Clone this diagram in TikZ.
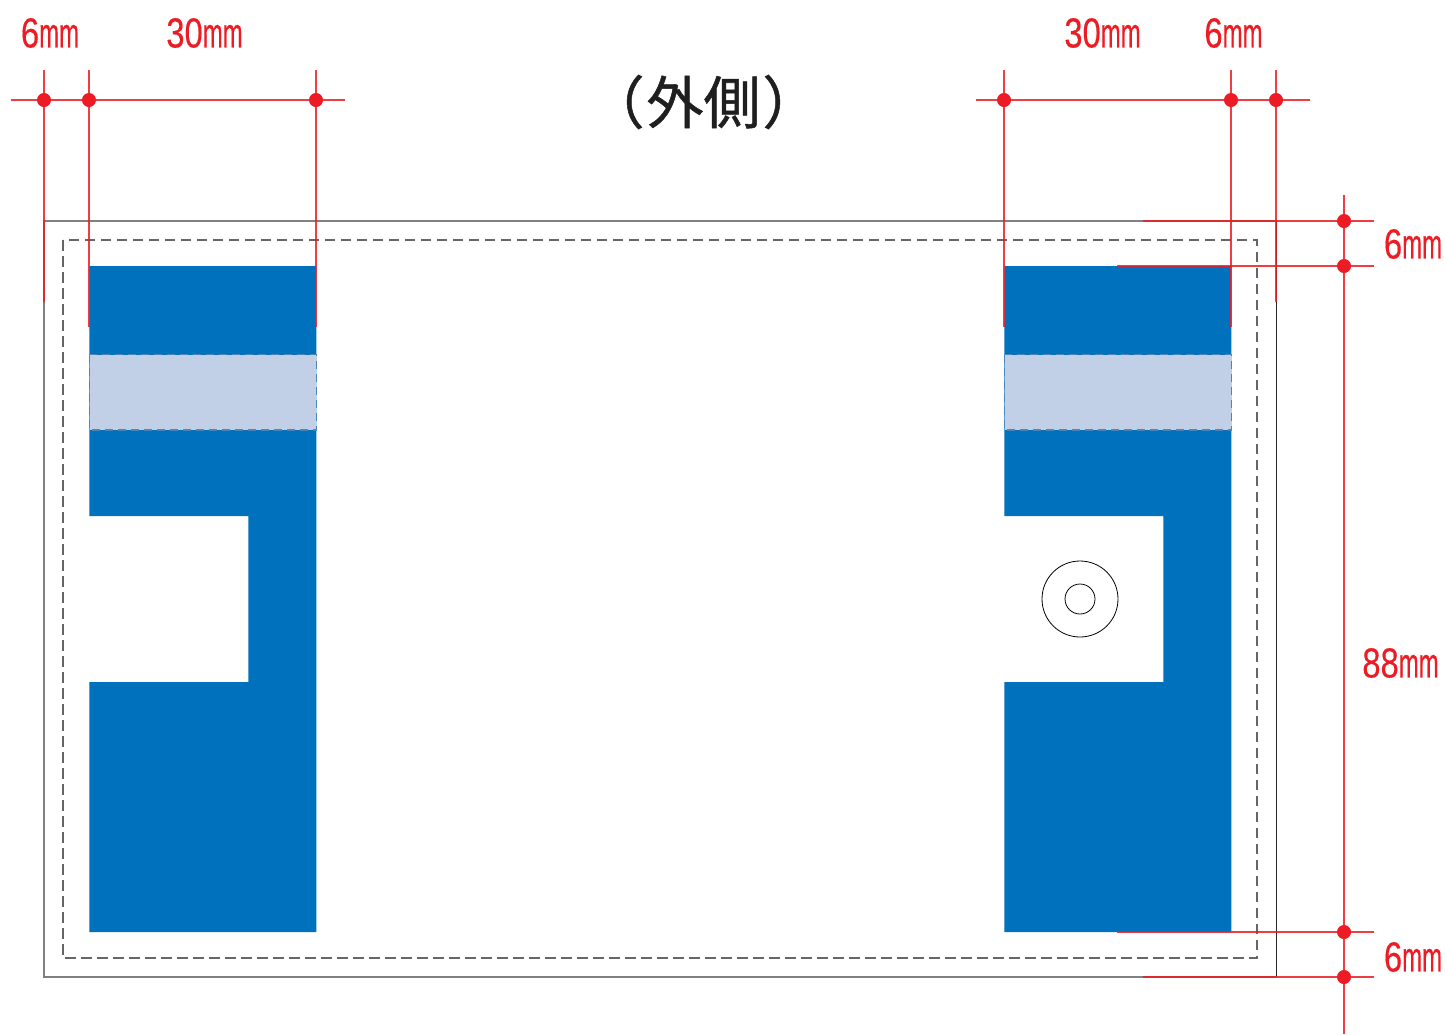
\documentclass[tikz,border=0pt]{standalone}
\usepackage{graphicx}
\usepackage{fontspec}
\setmainfont[FakeBold=0.35]{Liberation Sans}
\newfontfamily\cjkface[FakeBold=0.9]{Noto Sans CJK JP}
\definecolor{dimred}{HTML}{ED1C24}
\definecolor{panelblue}{HTML}{0071BC}
\definecolor{bandblue}{HTML}{C1D0E6}
\definecolor{bandedge}{HTML}{4F85B5}
\newcommand{\dimtext}[1]{\scalebox{.78}[1]{#1}\scalebox{.57}[1]{mm}}
\tikzset{
  x=0.5pt,y=-0.5pt,
  panel/.style={fill=panelblue,draw=none},
  band/.style={fill=bandblue,draw=bandedge,line width=.55pt,dash pattern=on 4pt off 2.5pt},
  edgeline/.style={draw=black!50,line width=.7pt},
  edgedark/.style={draw=black!85,line width=.5pt},
  safeline/.style={draw=black!60,line width=.65pt,dash pattern=on 5.25pt off 2.75pt},
  dimline/.style={draw=dimred,line width=.65pt,opacity=.85},
  dimdot/.style={circle,fill=dimred,inner sep=0pt,minimum size=6.5pt},
  dimlabel/.style={text=dimred,font=\fontsize{21}{21}\selectfont,inner sep=0pt},
  ring/.style={circle,draw=black,line width=.4pt,fill=white,inner sep=0pt}
}
\begin{document}
\begin{tikzpicture}
\useasboundingbox (0,0) rectangle (1446,1034);
\fill[white] (0,0) rectangle (1446,1034);
% trim outline
\draw[edgeline] (1276,221) -- (44,221) -- (44,977) -- (1276,977);
\draw[edgedark] (1276,221) -- (1276,977);
% safe line
\draw[safeline] (63,240) rectangle (1257,958);
% panels
\begin{scope}[xshift=.2pt]
\fill[panel] (89,266) -- (316,266) -- (316,932) -- (89,932) -- (89,682) -- (248,682) -- (248,516) -- (89,516) -- cycle;
\fill[panel] (1004,266) -- (1231,266) -- (1231,932) -- (1004,932) -- (1004,682) -- (1163,682) -- (1163,516) -- (1004,516) -- cycle;
\path[band] (89.5,354.5) rectangle (316.5,430);
\path[band] (1004.5,354.5) rectangle (1231.5,430);
\end{scope}
% eyelet
\node[ring,minimum size=38pt] (eyeouter) at (1080,599) {};
\node[ring,minimum size=15pt] (eyeinner) at (1080,599) {};
% dimension dots
\node[dimdot] (tl1) at (44,100) {};
\node[dimdot] (tl2) at (89,100) {};
\node[dimdot] (tl3) at (316,100) {};
\node[dimdot] (tr1) at (1004,100) {};
\node[dimdot] (tr2) at (1231,100) {};
\node[dimdot] (tr3) at (1276,100) {};
\node[dimdot] (ra) at (1344,221) {};
\node[dimdot] (rb) at (1344,266) {};
\node[dimdot] (rc) at (1344,932) {};
\node[dimdot] (rd) at (1344,977) {};
% free ends
\foreach \n/\x/\b in {tl1/44/302,tl2/89/327,tl3/316/327,tr1/1004/327,tr2/1231/327,tr3/1276/302}{
  \coordinate (\n u) at (\x,70);
  \coordinate (\n d) at (\x,\b);
  \draw[dimline] (\n u) -- (\n) -- (\n d);
}
\coordinate (hl0) at (11,100); \coordinate (hl1) at (345,100);
\coordinate (hr0) at (976,100); \coordinate (hr1) at (1310,100);
\draw[dimline] (hl0) -- (tl1) -- (tl2) -- (tl3) -- (hl1);
\draw[dimline] (hr0) -- (tr1) -- (tr2) -- (tr3) -- (hr1);
\foreach \n/\y/\a in {ra/221/1143,rb/266/1117,rc/932/1117,rd/977/1143}{
  \coordinate (\n l) at (\a,\y);
  \coordinate (\n r) at (1374,\y);
  \draw[dimline] (\n l) -- (\n) -- (\n r);
}
\coordinate (vtop) at (1344,195); \coordinate (vbot) at (1344,1034);
\draw[dimline] (vtop) -- (ra) -- (rb) -- (rc) -- (rd) -- (vbot);
% redraw dots above the lines
\foreach \n in {tl1,tl2,tl3,tr1,tr2,tr3,ra,rb,rc,rd}{\fill[dimred] (\n) circle (3.5pt);}
% title
\node[inner sep=0pt,text=black!88,font=\fontsize{28.5}{30}\selectfont\cjkface] (title) at (703.5,102) {（\kern1pt 外側\kern1pt ）};
% labels
\node[dimlabel] (l1) at (50,33) {\dimtext{6}};
\node[dimlabel] (l2) at (204.5,33) {\dimtext{30}};
\node[dimlabel] (l3) at (1102.5,33) {\dimtext{30}};
\node[dimlabel] (l4) at (1233.5,33) {\dimtext{6}};
\node[dimlabel] (l5) at (1413,244) {\dimtext{6}};
\node[dimlabel] (l6) at (1400.5,663) {\dimtext{88}};
\node[dimlabel] (l7) at (1413,957) {\dimtext{6}};
\end{tikzpicture}
\end{document}
